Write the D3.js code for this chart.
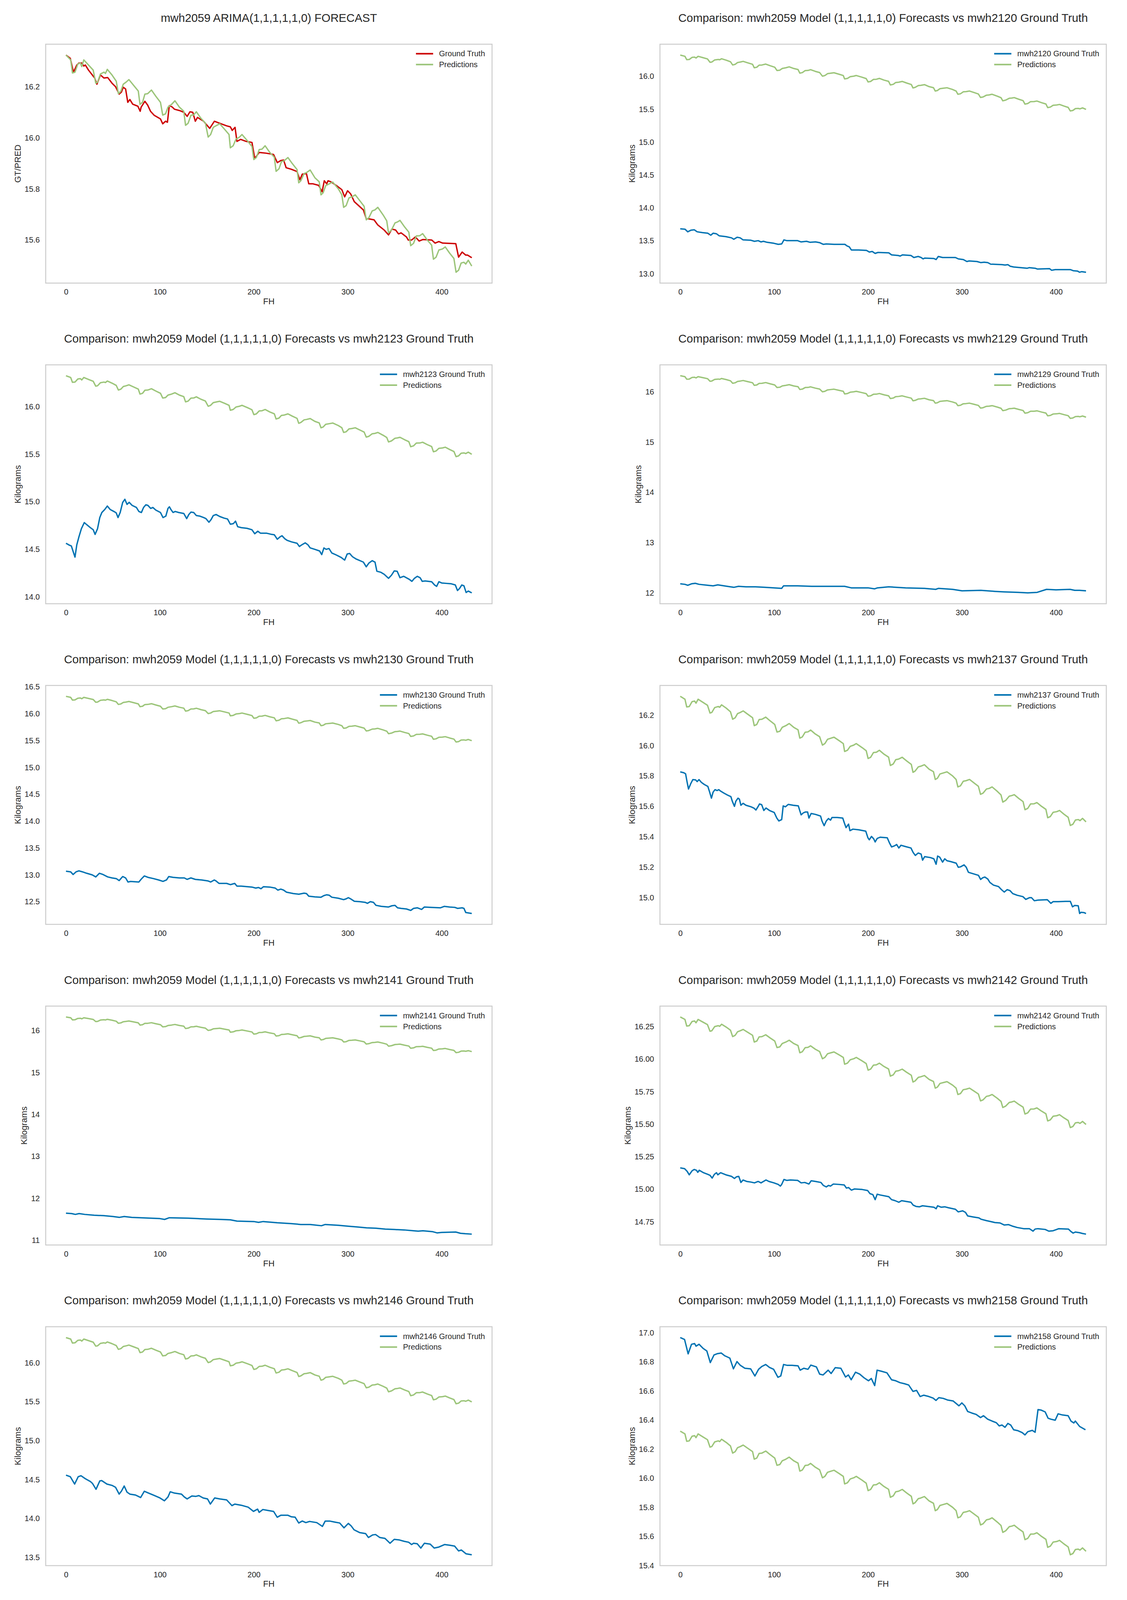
<!DOCTYPE html>
<html>
<head>
<meta charset="utf-8">
<script src="https://cdn.jsdelivr.net/npm/d3@7"></script>
<style>
  body { margin: 0; background: #fff; overflow: hidden; }
  text { font-family: "Liberation Sans", Arial, sans-serif; fill: #262626; }
</style>
</head>
<body>
<div id="chart"></div>
<script>
// forecast horizon ticks shared by every panel
var fhTicks = [0, 100, 200, 300, 400];

// mwh2059 model forecasts, [FH, value] (same in every panel)
var predictions = [
  [0,16.324],[5,16.305],[6.9,16.254],[9.6,16.257],[12.6,16.289],[15.3,16.293],[16.8,16.279],[19,16.305],
  [24,16.285],[29,16.265],[31.7,16.214],[33.6,16.218],[36.7,16.250],[40.5,16.257],[42,16.252],[44,16.268],
  [49,16.246],[53.5,16.222],[55.8,16.173],[58.5,16.183],[61,16.210],[64,16.218],[67,16.228],[71.9,16.206],
  [77,16.183],[78.8,16.131],[81.5,16.139],[84,16.171],[87,16.173],[91,16.187],[95.6,16.163],[100.6,16.139],
  [103,16.089],[106,16.094],[108.6,16.120],[112.4,16.131],[116,16.145],[120.8,16.120],[125.4,16.104],
  [127.3,16.049],[130,16.057],[133,16.088],[136,16.090],[138.8,16.102],[143.8,16.076],[148.4,16.058],
  [151.4,16.003],[154,16.013],[156.8,16.041],[160.6,16.049],[163.7,16.055],[169,16.033],[173.6,16.013],
  [175,15.961],[178,15.969],[181,15.995],[184.7,16.003],[187.4,16.013],[193.5,15.987],[198,15.966],
  [200,15.915],[202.7,15.923],[205.7,15.954],[208.8,15.956],[212,15.969],[217,15.943],[221.8,15.924],
  [223.7,15.869],[226.8,15.879],[229.4,15.907],[232.5,15.911],[236.3,15.923],[241,15.899],[246,15.876],
  [247.8,15.824],[250,15.832],[253.5,15.860],[256,15.864],[260,15.874],[265,15.844],[269.6,15.828],
  [271.5,15.777],[273.8,15.785],[276.5,15.813],[280.3,15.820],[284,15.827],[290,15.800],[293.7,15.777],
  [295.6,15.728],[298.3,15.735],[301.3,15.765],[304.4,15.769],[308,15.777],[312.8,15.754],[317.4,15.732],
  [319.7,15.679],[322.4,15.687],[326,15.714],[328.9,15.718],[332,15.728],[337.7,15.698],[341.5,15.675],
  [343.4,15.628],[346.5,15.639],[350.3,15.667],[353,15.671],[355.6,15.677],[360.6,15.651],[365,15.631],
  [367,15.578],[370,15.587],[373,15.616],[376.7,15.617],[379.7,15.625],[384.7,15.600],[389.3,15.580],
  [391.2,15.525],[394,15.533],[397,15.561],[400.8,15.565],[403.8,15.573],[408.4,15.549],[413,15.528],
  [415.3,15.474],[418,15.482],[420.7,15.510],[423.7,15.513],[425.6,15.506],[428.3,15.521],[432,15.498]
];

// ground truth series, [FH, value]
var gt2059 = [
  [0,16.324],[4.6,16.311],[8,16.257],[11.5,16.285],[13.8,16.293],[16.8,16.293],[19,16.281],[20.6,16.285],
  [24,16.265],[30.6,16.234],[32.9,16.210],[36.7,16.246],[40.5,16.234],[44.4,16.236],[49,16.214],[52.8,16.200],
  [56.6,16.171],[59,16.179],[61,16.198],[63.5,16.191],[65.8,16.139],[68,16.150],[71,16.132],[76.5,16.124],
  [79,16.104],[80,16.120],[84,16.143],[87,16.128],[90,16.104],[94,16.088],[100.6,16.074],[103,16.055],
  [106,16.065],[108,16.061],[110,16.126],[113,16.121],[115.5,16.112],[121.6,16.106],[125.4,16.100],
  [129,16.084],[132,16.102],[135,16.100],[137.7,16.065],[140,16.080],[146.5,16.065],[153,16.037],
  [158,16.065],[163.7,16.057],[171,16.047],[175,16.043],[177,16.029],[180,16.041],[182,15.986],[186,15.994],
  [192,15.986],[198,15.982],[201,15.919],[205.7,15.943],[213,15.940],[221,15.935],[225,15.903],[228.7,15.911],
  [231.7,15.913],[234.4,15.883],[240,15.877],[246,15.868],[249,15.836],[251.6,15.858],[256,15.860],
  [258.5,15.820],[263,15.820],[269,15.814],[272.7,15.789],[275,15.832],[277.6,15.820],[279,15.832],
  [282,15.828],[288,15.813],[293.7,15.797],[296.7,15.769],[299.8,15.793],[303,15.781],[307,15.750],
  [316.6,15.718],[319.7,15.683],[322.4,15.683],[328,15.679],[332,15.659],[338.8,15.639],[343.4,15.620],
  [347,15.643],[351,15.639],[354,15.624],[356.8,15.628],[362.5,15.612],[364.4,15.600],[368,15.600],
  [372,15.612],[376,15.596],[380,15.602],[389.4,15.600],[393,15.588],[397,15.594],[401,15.588],[415,15.586],
  [418,15.533],[421.8,15.553],[425.6,15.541],[427.5,15.541],[432,15.531]
];

var gt2120 = [
  [0,13.683],[5,13.677],[8,13.637],[11.5,13.662],[14.9,13.668],[18,13.637],[23.7,13.625],[29.4,13.615],
  [32.5,13.585],[35,13.615],[38.6,13.606],[41.6,13.575],[48.5,13.563],[54.6,13.545],[57,13.523],[60.7,13.554],
  [63.8,13.545],[66.9,13.514],[75.3,13.508],[79,13.492],[83,13.502],[86,13.483],[88.6,13.492],[92.5,13.477],
  [99.7,13.462],[104.3,13.446],[108,13.452],[110.4,13.514],[113.5,13.502],[125,13.502],[128.7,13.483],
  [134.5,13.492],[138.3,13.477],[144,13.483],[148.6,13.471],[152.4,13.446],[155.5,13.452],[163.8,13.446],
  [175.3,13.446],[177.6,13.422],[179.9,13.409],[182.2,13.360],[189.9,13.360],[198.3,13.354],[201.3,13.329],
  [204.4,13.338],[207.5,13.308],[210.5,13.323],[222,13.317],[225,13.286],[231.9,13.277],[234.2,13.268],
  [236.5,13.286],[245.6,13.277],[248.7,13.246],[253.3,13.262],[256.4,13.246],[258.6,13.225],[260.2,13.237],
  [270,13.231],[272.4,13.215],[274.7,13.262],[279.3,13.246],[293,13.246],[296,13.225],[301.4,13.215],
  [305.2,13.185],[307.5,13.194],[316,13.185],[319.8,13.169],[323.6,13.175],[327.4,13.169],[330.5,13.145],
  [342.7,13.138],[345.8,13.132],[348.8,13.138],[351.1,13.114],[355,13.102],[369.5,13.083],[371.7,13.092],
  [377.8,13.083],[380.1,13.071],[393.1,13.077],[395.4,13.052],[399.2,13.062],[415.3,13.062],[418.3,13.046],
  [422.9,13.040],[425.2,13.022],[427.5,13.031],[432,13.022]
];

var gt2123 = [
  [0,14.564],[3.8,14.543],[5.7,14.536],[8,14.466],[9.6,14.419],[11.5,14.547],[13.8,14.632],[16.4,14.717],
  [19.5,14.781],[22,14.760],[26,14.728],[29,14.706],[31,14.657],[33.6,14.717],[36,14.834],[38.2,14.887],
  [41.3,14.919],[44,14.955],[47,14.919],[51,14.898],[53.5,14.883],[55.4,14.834],[57.7,14.887],[60.4,14.994],
  [62.7,15.026],[65,14.972],[67.3,14.994],[70.4,14.962],[75,14.940],[77.6,14.898],[80.3,14.887],[82.6,14.940],
  [85,14.968],[87.2,14.962],[90.2,14.930],[92.5,14.940],[95.6,14.913],[100.6,14.887],[103.3,14.834],
  [106.3,14.849],[108.6,14.930],[110.1,14.947],[111.7,14.919],[114,14.887],[116.3,14.898],[120,14.887],
  [125.4,14.877],[128.5,14.823],[130.8,14.866],[133,14.891],[136,14.887],[138.8,14.855],[142.6,14.849],
  [146.5,14.834],[149,14.823],[152.2,14.785],[154.5,14.813],[156.8,14.855],[159.8,14.866],[163.7,14.845],
  [168.3,14.828],[172,14.819],[175,14.764],[178.2,14.770],[180.5,14.796],[182.8,14.738],[186.6,14.728],
  [192.7,14.721],[198,14.706],[201,14.664],[204.2,14.691],[207,14.670],[213.4,14.670],[219,14.657],
  [221.8,14.653],[225,14.606],[228,14.632],[230,14.643],[233,14.611],[235.6,14.594],[240,14.579],[246,14.564],
  [248.5,14.530],[251.6,14.551],[254.7,14.568],[257.7,14.547],[260,14.515],[265,14.500],[270,14.483],
  [272.3,14.445],[274.6,14.515],[277,14.500],[280,14.509],[283,14.462],[288,14.440],[293,14.415],
  [296.7,14.387],[299.4,14.451],[302,14.457],[305,14.423],[309,14.398],[316.6,14.366],[319.7,14.317],
  [322.4,14.355],[326,14.381],[329,14.366],[331,14.270],[335,14.260],[338.8,14.238],[343.4,14.196],
  [346.5,14.228],[349.5,14.274],[352.6,14.270],[355.6,14.202],[359.5,14.217],[365.5,14.185],[368.3,14.164],
  [371,14.196],[374,14.217],[377,14.202],[379.3,14.164],[382.4,14.168],[389.3,14.160],[392.4,14.126],
  [394.6,14.111],[397,14.160],[400,14.147],[404.6,14.143],[410.3,14.138],[414.5,14.126],[416.8,14.068],
  [419,14.089],[421.4,14.126],[423.7,14.117],[426,14.047],[428.3,14.062],[432,14.043]
];

var gt2129 = [
  [0,12.18],[5,12.17],[8,12.15],[12,12.18],[16,12.19],[20,12.17],[30,12.15],[35,12.14],[40,12.16],
  [50,12.13],[57,12.11],[62,12.13],[70,12.12],[80,12.12],[90,12.11],[100,12.10],[108,12.09],[110,12.14],
  [125,12.14],[140,12.13],[150,12.13],[160,12.13],[175,12.13],[182,12.10],[200,12.10],[207,12.08],
  [210,12.10],[222,12.12],[240,12.10],[260,12.09],[272,12.07],[275,12.09],[290,12.07],[300,12.04],
  [320,12.05],[335,12.03],[345,12.02],[360,12.01],[370,12.00],[380,12.01],[390,12.07],[400,12.06],
  [415,12.07],[420,12.05],[425,12.05],[432,12.04]
];

var gt2130 = [
  [0,13.069],[5,13.057],[7.6,13.008],[10.7,13.057],[13.8,13.076],[17.6,13.057],[22,13.031],[28,13.000],
  [31.7,12.963],[35.6,13.031],[39.4,13.008],[44.4,12.963],[49,12.944],[53.5,12.932],[56.6,12.895],
  [60.4,12.970],[63.5,12.944],[66,12.868],[68.8,12.879],[77.6,12.868],[80.3,12.925],[83.4,12.981],
  [87.2,12.955],[93,12.932],[98.7,12.906],[103.3,12.879],[107,12.906],[109.4,12.970],[114,12.955],
  [120.8,12.944],[126,12.944],[129,12.917],[133,12.944],[137.7,12.917],[144.5,12.906],[151.4,12.887],
  [154,12.868],[157.9,12.906],[159.8,12.887],[163,12.842],[171,12.842],[175,12.819],[179.7,12.842],
  [182,12.792],[186.6,12.792],[198,12.774],[202,12.755],[205,12.766],[207.6,12.743],[210.3,12.781],
  [217,12.774],[222.8,12.755],[225.5,12.717],[228.7,12.736],[231.7,12.717],[234.8,12.679],[242,12.653],
  [247.8,12.641],[253.5,12.660],[256,12.653],[258.5,12.604],[265,12.592],[271.5,12.585],[274.6,12.615],
  [277.6,12.630],[280.3,12.622],[283,12.585],[290,12.566],[295.6,12.540],[298.3,12.555],[300.6,12.577],
  [303,12.555],[307,12.509],[312.8,12.502],[318.5,12.490],[321,12.471],[324,12.502],[327.3,12.490],
  [330,12.434],[335.7,12.415],[343.4,12.403],[347,12.426],[350.3,12.434],[353,12.388],[356.8,12.377],
  [362.5,12.366],[367,12.339],[370,12.377],[374,12.388],[378.6,12.358],[381.6,12.403],[389.3,12.396],
  [398.8,12.388],[402.7,12.415],[408.4,12.403],[414,12.396],[416.8,12.377],[421.8,12.388],[423.7,12.377],
  [425.6,12.301],[432,12.282]
];

var gt2137 = [
  [0,15.827],[3.8,15.821],[5.7,15.814],[7.3,15.760],[8.8,15.714],[11,15.747],[13.4,15.776],[16.4,15.774],
  [18,15.763],[20,15.776],[22.5,15.758],[25.6,15.744],[29.4,15.731],[31.3,15.694],[33.2,15.654],[35,15.694],
  [37,15.710],[39.3,15.704],[41,15.710],[43,15.700],[46.6,15.687],[50.4,15.674],[53.9,15.664],[55.4,15.634],
  [57.7,15.600],[59.2,15.634],[61.5,15.654],[63,15.647],[64.6,15.607],[66.9,15.620],[70,15.607],[75.3,15.597],
  [78.3,15.589],[80.6,15.576],[83,15.600],[84.4,15.616],[86.7,15.611],[89,15.573],[91.3,15.589],[95,15.573],
  [100,15.560],[102.8,15.523],[105,15.504],[108,15.513],[109.6,15.603],[112,15.597],[115,15.613],
  [120.3,15.607],[125.7,15.603],[127.2,15.573],[128.7,15.544],[131,15.557],[133.3,15.563],[135.6,15.563],
  [137,15.523],[139.4,15.553],[144,15.547],[149.4,15.536],[150.9,15.504],[153.2,15.473],[155.5,15.504],
  [157.8,15.520],[160,15.509],[161.6,15.527],[167,15.527],[173,15.523],[174.6,15.493],[176.5,15.460],
  [179.2,15.483],[180.7,15.440],[183.8,15.450],[189.9,15.446],[197.5,15.437],[199.8,15.393],[201.3,15.380],
  [203.6,15.402],[206,15.386],[207.5,15.366],[209.7,15.389],[212.8,15.397],[220.4,15.393],[222.7,15.360],
  [225,15.333],[228,15.340],[230.4,15.349],[232.7,15.326],[235,15.344],[239.5,15.336],[245.6,15.326],
  [248,15.296],[250.3,15.277],[253.3,15.293],[256.4,15.286],[258,15.246],[260.2,15.269],[266.3,15.263],
  [270,15.255],[272.4,15.219],[274,15.273],[276.2,15.266],[279.3,15.233],[281.6,15.255],[284,15.242],
  [287.7,15.237],[293.8,15.226],[296,15.199],[298.4,15.202],[302.2,15.215],[304.5,15.199],[306.8,15.166],
  [310.6,15.159],[317.5,15.146],[319.8,15.119],[322,15.130],[324.3,15.135],[327.4,15.122],[329.7,15.099],
  [333.5,15.082],[338.9,15.072],[342,15.052],[345,15.036],[348,15.052],[351,15.046],[354,15.026],
  [358.7,15.015],[364.8,15.006],[367.9,14.988],[371.7,14.999],[374,14.999],[377,14.979],[380.9,14.983],
  [390.8,14.986],[394.6,14.962],[397,14.973],[402.3,14.973],[410,14.975],[415.3,14.975],[417.6,14.939],
  [419.9,14.948],[423.7,14.946],[425.2,14.895],[426.7,14.903],[429.8,14.901],[432,14.895]
];

var gt2141 = [
  [0,11.65],[6,11.64],[10,11.62],[14,11.64],[20,11.62],[30,11.60],[40,11.59],[50,11.57],[57,11.55],
  [62,11.57],[70,11.55],[80,11.54],[90,11.53],[100,11.52],[105,11.50],[110,11.54],[130,11.53],[150,11.51],
  [165,11.50],[175,11.49],[182,11.46],[200,11.45],[205,11.43],[210,11.45],[225,11.42],[240,11.40],
  [250,11.38],[260,11.38],[272,11.35],[276,11.38],[290,11.36],[300,11.34],[310,11.32],[320,11.30],
  [330,11.29],[340,11.27],[350,11.26],[360,11.25],[370,11.23],[375,11.22],[380,11.23],[390,11.21],
  [395,11.18],[400,11.19],[415,11.20],[420,11.17],[425,11.16],[432,11.15]
];

var gt2142 = [
  [0,15.164],[4.6,15.158],[7.3,15.138],[9.6,15.111],[12.6,15.142],[14.9,15.152],[17.2,15.146],[18.7,15.130],
  [20.2,15.146],[24.8,15.127],[29.4,15.114],[31.7,15.107],[34,15.086],[36.3,15.114],[38.6,15.127],[40,15.111],
  [43,15.127],[48.5,15.111],[54.6,15.099],[57.7,15.083],[60,15.096],[62.3,15.099],[64.6,15.052],[66.9,15.071],
  [70.7,15.060],[75.3,15.055],[79,15.049],[83,15.060],[86,15.049],[88.6,15.060],[91.3,15.071],[94.4,15.060],
  [99.7,15.049],[104.3,15.037],[106.6,15.024],[108,15.037],[110.4,15.075],[113.5,15.068],[117.3,15.071],
  [125,15.068],[128.7,15.049],[132.6,15.052],[137,15.040],[139.4,15.065],[144,15.060],[149.8,15.052],
  [152.4,15.029],[155.5,15.018],[157.8,15.029],[160,15.024],[163,15.040],[168.9,15.037],[174.6,15.033],
  [176.9,15.009],[179.2,15.013],[182.2,14.993],[185.3,15.002],[193.7,14.998],[199.5,14.990],[202,14.966],
  [205,14.959],[207.5,14.920],[209.7,14.962],[212.8,14.956],[222,14.943],[225,14.920],[228.8,14.912],
  [232.7,14.900],[235.7,14.912],[245.6,14.900],[248,14.878],[251,14.868],[254.8,14.865],[257.9,14.873],
  [270,14.862],[272.4,14.850],[274,14.873],[277.7,14.862],[281.6,14.865],[285.4,14.858],[293,14.846],
  [296,14.826],[300.7,14.834],[303.7,14.822],[306,14.795],[312,14.787],[317.9,14.780],[320.5,14.769],
  [325.9,14.759],[329.7,14.753],[335,14.744],[340.4,14.741],[345,14.725],[349.6,14.728],[353.4,14.717],
  [358.7,14.706],[365.6,14.697],[371.7,14.697],[375.6,14.678],[377.8,14.694],[380.9,14.697],[388.5,14.691],
  [392.4,14.678],[397,14.681],[400.8,14.691],[403,14.697],[413.3,14.694],[416,14.675],[418.3,14.663],
  [420.6,14.671],[425.2,14.666],[428.3,14.660],[432,14.655]
];

var gt2146 = [
  [0,14.557],[4.6,14.537],[9.2,14.443],[13,14.537],[16,14.550],[20.6,14.512],[26,14.475],[28.3,14.450],
  [32,14.376],[36,14.483],[38,14.488],[43.6,14.443],[49,14.426],[52.8,14.401],[56.6,14.314],[59,14.351],
  [62,14.418],[65,14.339],[68,14.314],[74,14.302],[79.5,14.270],[83.4,14.351],[88,14.327],[93,14.302],
  [100,14.265],[104.8,14.228],[108.6,14.277],[111,14.344],[115.5,14.327],[123,14.314],[126,14.277],
  [129,14.252],[134,14.290],[138.4,14.285],[141.5,14.295],[146,14.265],[150.7,14.252],[153.7,14.186],
  [158.3,14.265],[163.7,14.252],[171,14.240],[176.7,14.166],[179.7,14.186],[186.6,14.171],[194,14.146],
  [199.6,14.092],[204,14.121],[205.7,14.079],[209.6,14.116],[215,14.104],[221,14.092],[224.9,14.017],
  [228.7,14.042],[236.3,14.042],[240,14.022],[244,14.017],[247.8,13.943],[251.6,13.968],[255.4,13.948],
  [259.3,13.963],[267,13.948],[273,13.899],[276,13.968],[280.7,13.968],[286,13.955],[291.4,13.943],
  [296,13.881],[300.6,13.938],[303.6,13.906],[306.7,13.856],[312.8,13.819],[319,13.807],[322,13.757],
  [326.6,13.790],[329.6,13.795],[334,13.757],[339.6,13.745],[345,13.683],[349.5,13.733],[355,13.725],
  [360,13.708],[364.8,13.696],[368,13.666],[370,13.683],[374,13.676],[377.8,13.621],[381.6,13.683],
  [387.8,13.671],[392,13.621],[397,13.634],[403,13.666],[408.4,13.658],[413.8,13.646],[418,13.584],
  [421,13.596],[426,13.547],[432,13.535]
];

var gt2158 = [
  [0,16.967],[4.6,16.954],[8.4,16.855],[12,16.921],[15.3,16.926],[16.8,16.908],[20,16.921],[24.5,16.892],
  [28.3,16.875],[32,16.795],[36,16.848],[39.8,16.857],[43.6,16.861],[47.4,16.842],[52.8,16.826],[56.6,16.752],
  [60.4,16.802],[64,16.776],[68.8,16.756],[75,16.752],[79.5,16.703],[83.4,16.749],[87,16.769],[91,16.782],
  [95,16.762],[99.4,16.749],[104,16.694],[107,16.703],[110,16.782],[114,16.776],[119,16.776],[125.4,16.773],
  [127.7,16.743],[131.5,16.756],[136,16.749],[139,16.778],[145,16.765],[148.4,16.716],[152,16.710],
  [157.5,16.743],[160.6,16.720],[165,16.760],[171,16.756],[176,16.696],[179,16.710],[182,16.677],
  [186.6,16.729],[191,16.716],[195.8,16.690],[200.4,16.670],[203.4,16.686],[207,16.637],[209.6,16.743],
  [214,16.736],[220,16.725],[225,16.677],[229.4,16.670],[234,16.657],[238.6,16.650],[243.2,16.641],
  [247.8,16.597],[251.6,16.604],[255.4,16.562],[259.3,16.571],[264.6,16.562],[269.2,16.551],[272.3,16.535],
  [275.3,16.554],[280,16.549],[284.5,16.538],[290.6,16.531],[296.7,16.498],[299.8,16.518],[302.9,16.498],
  [306,16.459],[310.5,16.448],[315,16.439],[319.7,16.417],[322.8,16.430],[327.3,16.406],[332,16.393],
  [336.5,16.382],[339.6,16.360],[342.6,16.366],[345.7,16.350],[348.8,16.377],[351.8,16.366],[355,16.333],
  [359.5,16.327],[364,16.314],[367,16.298],[370,16.320],[374.8,16.329],[377.8,16.316],[380.9,16.472],
  [384,16.469],[388.5,16.456],[391.6,16.413],[394.6,16.406],[399.2,16.399],[402.3,16.443],[406.9,16.435],
  [413,16.430],[416,16.393],[419,16.380],[420.6,16.393],[425.2,16.356],[431.4,16.333]
];

// y tick values per panel
var ticks2059 = [15.6, 15.8, 16.0, 16.2];
var ticks2120 = [13.0, 13.5, 14.0, 14.5, 15.0, 15.5, 16.0];
var ticks2123 = [14.0, 14.5, 15.0, 15.5, 16.0];
var ticks2129 = [12, 13, 14, 15, 16];
var ticks2130 = [12.5, 13.0, 13.5, 14.0, 14.5, 15.0, 15.5, 16.0, 16.5];
var ticks2137 = [15.0, 15.2, 15.4, 15.6, 15.8, 16.0, 16.2];
var ticks2141 = [11, 12, 13, 14, 15, 16];
var ticks2142 = [14.75, 15.00, 15.25, 15.50, 15.75, 16.00, 16.25];
var ticks2146 = [13.5, 14.0, 14.5, 15.0, 15.5, 16.0];
var ticks2158 = [15.4, 15.6, 15.8, 16.0, 16.2, 16.4, 16.6, 16.8, 17.0];

var compTitle = function(id) {
  return "Comparison: mwh2059 Model (1,1,1,1,1,0) Forecasts vs " + id + " Ground Truth";
};

var RED = "#cc0000", BLUE = "#0072b2", GREEN = "#9cc57a";

var panels = [
  {title: "mwh2059 ARIMA(1,1,1,1,1,0) FORECAST", gt: gt2059, gtLabel: "Ground Truth", color: RED, ylabel: "GT/PRED", ticks: ticks2059, fmt: ".1f"},
  {title: compTitle("mwh2120"), gt: gt2120, gtLabel: "mwh2120 Ground Truth", color: BLUE, ylabel: "Kilograms", ticks: ticks2120, fmt: ".1f"},
  {title: compTitle("mwh2123"), gt: gt2123, gtLabel: "mwh2123 Ground Truth", color: BLUE, ylabel: "Kilograms", ticks: ticks2123, fmt: ".1f"},
  {title: compTitle("mwh2129"), gt: gt2129, gtLabel: "mwh2129 Ground Truth", color: BLUE, ylabel: "Kilograms", ticks: ticks2129, fmt: "d"},
  {title: compTitle("mwh2130"), gt: gt2130, gtLabel: "mwh2130 Ground Truth", color: BLUE, ylabel: "Kilograms", ticks: ticks2130, fmt: ".1f"},
  {title: compTitle("mwh2137"), gt: gt2137, gtLabel: "mwh2137 Ground Truth", color: BLUE, ylabel: "Kilograms", ticks: ticks2137, fmt: ".1f"},
  {title: compTitle("mwh2141"), gt: gt2141, gtLabel: "mwh2141 Ground Truth", color: BLUE, ylabel: "Kilograms", ticks: ticks2141, fmt: "d"},
  {title: compTitle("mwh2142"), gt: gt2142, gtLabel: "mwh2142 Ground Truth", color: BLUE, ylabel: "Kilograms", ticks: ticks2142, fmt: ".2f"},
  {title: compTitle("mwh2146"), gt: gt2146, gtLabel: "mwh2146 Ground Truth", color: BLUE, ylabel: "Kilograms", ticks: ticks2146, fmt: ".1f"},
  {title: compTitle("mwh2158"), gt: gt2158, gtLabel: "mwh2158 Ground Truth", color: BLUE, ylabel: "Kilograms", ticks: ticks2158, fmt: ".1f"}
];

// figure layout, in the original 2886 x 4561 frame; the window may be shorter,
// so vertical positions are squeezed to fit while text keeps its size
var W = 2886, H0 = 4561;
var H = Math.min(H0, window.innerHeight || H0);
var sy = H / H0;
var colLeft = [117, 1690], plotW = 1143;
var plotH = 681 * sy, rowTop = 126 * sy, rowStep = 914 * sy;

var svg = d3.select("#chart")
  .append("svg")
    .attr("width", W)
    .attr("height", H);

svg.append("rect").attr("width", W).attr("height", H).attr("fill", "#fff");

panels.forEach(function(p, i) {
  var left = colLeft[i % 2], top = rowTop + Math.floor(i / 2) * rowStep;

  var g = svg.append("g")
    .attr("transform", "translate(" + left + "," + top + ")");

  // matplotlib-like 5% margins
  var xr = [0, 432], xpad = (xr[1] - xr[0]) * 0.05;
  var x = d3.scaleLinear().domain([xr[0] - xpad, xr[1] + xpad]).range([0, plotW]);

  var ext = d3.extent(p.gt.concat(predictions), function(d) { return d[1]; });
  var ypad = (ext[1] - ext[0]) * 0.05;
  var y = d3.scaleLinear().domain([ext[0] - ypad, ext[1] + ypad]).range([plotH, 0]);

  // title
  g.append("text")
    .attr("x", plotW / 2)
    .attr("y", -75 * sy)
    .attr("dy", "0.35em")
    .attr("text-anchor", "middle")
    .style("font-size", "29.4px")
    .text(p.title);

  // axes
  var xAxis = g.append("g")
    .attr("transform", "translate(0," + plotH + ")")
    .call(d3.axisBottom(x).tickValues(fhTicks).tickSize(0).tickPadding(25 * sy - 7));
  var yAxis = g.append("g")
    .call(d3.axisLeft(y).tickValues(p.ticks).tickSize(0).tickPadding(15).tickFormat(d3.format(p.fmt)));
  [xAxis, yAxis].forEach(function(a) {
    a.select(".domain").remove();
    a.selectAll("text")
      .style("font-size", "20px")
      .style("font-family", "'Liberation Sans', Arial, sans-serif")
      .attr("fill", "#262626");
  });
  var tickW = d3.max(yAxis.selectAll("text").nodes(), function(n) { return n.getComputedTextLength(); });

  // axis labels
  g.append("text")
    .attr("x", plotW / 2)
    .attr("y", plotH + 52 * sy)
    .attr("dy", "0.35em")
    .attr("text-anchor", "middle")
    .style("font-size", "22px")
    .text("FH");
  g.append("text")
    .attr("transform", "translate(" + (-(15 + tickW + 18)) + "," + (plotH / 2) + ") rotate(-90)")
    .attr("text-anchor", "middle")
    .attr("dy", "0.35em")
    .style("font-size", "22px")
    .text(p.ylabel);

  // lines
  var line = d3.line()
    .x(function(d) { return x(d[0]); })
    .y(function(d) { return y(d[1]); });

  g.append("path")
    .datum(p.gt)
    .attr("fill", "none")
    .attr("stroke", p.color)
    .attr("stroke-width", 3.5)
    .attr("stroke-linejoin", "round")
    .attr("d", line);

  g.append("path")
    .datum(predictions)
    .attr("fill", "none")
    .attr("stroke", GREEN)
    .attr("stroke-width", 3.5)
    .attr("stroke-linejoin", "round")
    .attr("d", line);

  // frame
  g.append("rect")
    .attr("width", plotW)
    .attr("height", plotH)
    .attr("fill", "none")
    .attr("stroke", "#cccccc")
    .attr("stroke-width", 2.5);

  // legend, right aligned inside the frame
  var entries = [{label: p.gtLabel, color: p.color}, {label: "Predictions", color: GREEN}];
  var rowY = function(d, k) { return (27 + k * 31) * sy; };
  var leg = g.append("g");
  var texts = leg.selectAll("text.leg")
    .data(entries)
    .enter()
    .append("text")
      .attr("class", "leg")
      .attr("y", rowY)
      .attr("dy", "0.35em")
      .style("font-size", "20px")
      .text(function(d) { return d.label; });
  var maxW = d3.max(texts.nodes(), function(n) { return n.getComputedTextLength(); });
  var textX = plotW - 18 - maxW;
  texts.attr("x", textX);
  leg.selectAll("line.leg")
    .data(entries)
    .enter()
    .append("line")
      .attr("class", "leg")
      .attr("x1", textX - 59)
      .attr("x2", textX - 15)
      .attr("y1", rowY)
      .attr("y2", rowY)
      .attr("stroke", function(d) { return d.color; })
      .attr("stroke-width", 4);
});
</script>
</body>
</html>
